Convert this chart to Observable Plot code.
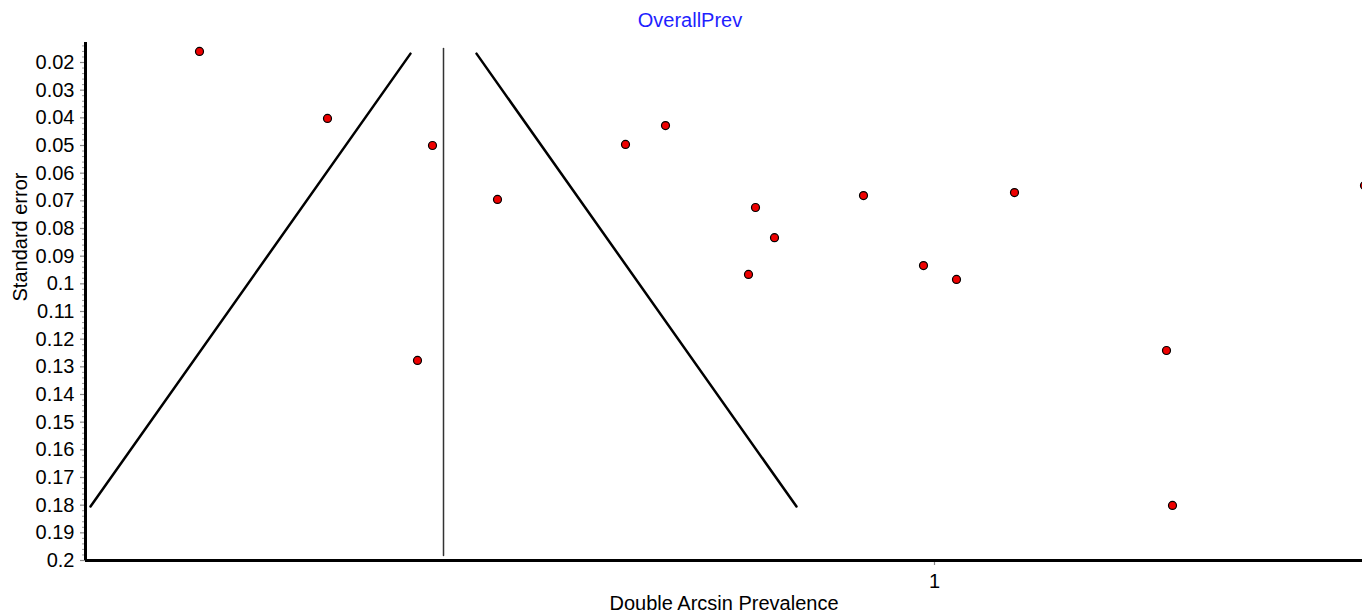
<!DOCTYPE html>
<html>
<head>
<meta charset="utf-8">
<script src="https://cdn.jsdelivr.net/npm/d3@7"></script>
<script src="https://cdn.jsdelivr.net/npm/@observablehq/plot@0.6"></script>
<style>
  html, body { margin: 0; padding: 0; background: #fff; }
  #chart { width: 1362px; height: 615px; overflow: hidden; }
</style>
</head>
<body>
<div id="chart"></div>
<script>
// ---- Data ----
const chartTitle = "OverallPrev";
const xLabel = "Double Arcsin Prevalence";
const yLabel = "Standard error";

// study estimates (double arcsine prevalence) and their standard errors
const studyX  = [0.265, 0.393, 0.498, 0.483, 0.563, 0.691, 0.731, 0.821, 0.840, 0.814, 0.929, 0.989, 1.022, 1.080, 1.232, 1.238, 1.430];
const studySE = [0.0160, 0.0402, 0.0500, 0.1277, 0.0695, 0.0496, 0.0428, 0.0724, 0.0833, 0.0966, 0.0681, 0.0934, 0.0984, 0.0670, 0.1241, 0.1801, 0.0645];

// pooled estimate (vertical line) and its se extent
const pooledX = 0.509;
const pooledSE = [0.0149, 0.1982];

// funnel (pseudo 95% limits) endpoints
const funnelLeftX  = [0.476, 0.156];
const funnelRightX = [0.542, 0.862];
const funnelSE     = [0.0168, 0.1805];

// axes
const xDomain = [0.151, 1.428];
const yDomain = [0.01277, 0.2];
const xTicks = [1];
const yTicks = [0.02, 0.03, 0.04, 0.05, 0.06, 0.07, 0.08, 0.09, 0.1, 0.11, 0.12, 0.13, 0.14, 0.15, 0.16, 0.17, 0.18, 0.19, 0.2];
const yMinorTicks = d3.range(14, 201, 2).map(v => v / 1000).filter(v => !yTicks.some(t => Math.abs(t - v) < 1e-9));

// ---- build tables ----
const studies = studyX.map((x, i) => ({x, se: studySE[i]}));
const pooledLine = pooledSE.map(se => ({x: pooledX, se}));
const leftFunnel = funnelSE.map((se, i) => ({x: funnelLeftX[i], se}));
const rightFunnel = funnelSE.map((se, i) => ({x: funnelRightX[i], se}));

const fmt = d => String(+d.toFixed(2));

const chart = Plot.plot({
  width: 1362,
  height: 615,
  marginLeft: 85,
  marginRight: 0,
  marginTop: 42,
  marginBottom: 55,
  style: {
    fontFamily: "'Liberation Sans', Arial, sans-serif",
    fontSize: "20px",
    background: "#fff",
    color: "#000",
    overflow: "visible"
  },
  x: {domain: xDomain},
  y: {domain: yDomain, reverse: true},
  marks: [
    // minor y ticks
    Plot.axisY(yMinorTicks, {tickSize: 3, text: null, stroke: "#999", strokeWidth: 1, label: null}),
    // major y ticks
    Plot.axisY(yTicks, {tickSize: 5, tickPadding: 6, tickFormat: fmt, stroke: "#888", strokeWidth: 1.2, fill: "#000", label: null}),
    // x tick
    Plot.axisX(xTicks, {tickSize: 5, tickPadding: 8, tickFormat: d => String(d), stroke: "#888", strokeWidth: 1.2, fill: "#000", label: null}),
    // funnel lines
    Plot.line(leftFunnel, {x: "x", y: "se", stroke: "#000", strokeWidth: 2.5}),
    Plot.line(rightFunnel, {x: "x", y: "se", stroke: "#000", strokeWidth: 2.5}),
    // pooled estimate
    Plot.line(pooledLine, {x: "x", y: "se", stroke: "#333", strokeWidth: 1.5}),
    // axis lines
    Plot.ruleX([xDomain[0]], {stroke: "#000", strokeWidth: 3}),
    Plot.ruleY([yDomain[1]], {stroke: "#000", strokeWidth: 3}),
    // study points
    Plot.dot(studies, {x: "x", y: "se", r: 4, fill: "#ee0000", stroke: "#000", strokeWidth: 1.2, clip: true}),
    // title & labels
    Plot.text([chartTitle], {text: d => d, frameAnchor: "top", lineAnchor: "middle", dy: -22, dx: -34, fill: "#1f1fff", fontSize: 20}),
    Plot.text([xLabel], {text: d => d, frameAnchor: "bottom", lineAnchor: "middle", dy: 43, fill: "#000", fontSize: 20}),
    Plot.text([yLabel], {text: d => d, frameAnchor: "left", dx: -65, rotate: -90, fill: "#000", fontSize: 20})
  ]
});

document.getElementById("chart").appendChild(chart);
</script>
</body>
</html>
